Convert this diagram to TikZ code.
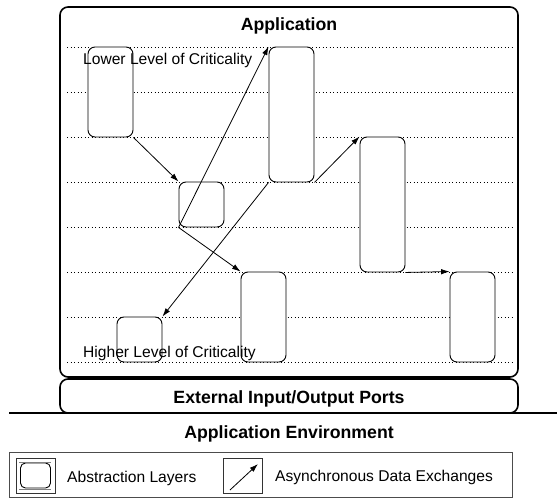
\documentclass[tikz,border=0pt]{standalone}
\usepackage{fontspec}
\setmainfont{Liberation Sans}
\usetikzlibrary{arrows.meta}
\tikzset{
	% boxes: abstraction layers and the two frames
	layer node/.style={rectangle,draw=black,line width=0.9,fill=white,rounded corners=7,inner sep=0,minimum width=45},
	frame node/.style={rectangle,draw,line width=1.6,rounded corners=8,inner sep=0},
	icon node/.style={rectangle,draw=black!80,inner sep=0,minimum width=39,minimum height=35},
	level line/.style={dash pattern=on 0.9pt off 2.6pt,line width=0.8},
	exchange/.style={->,line width=0.8},
	title text/.style={font=\fontsize{17.7}{20}\selectfont\bfseries,inner sep=0,anchor=base},
	label text/.style={font=\fontsize{15.6}{18}\selectfont,inner sep=0,anchor=base west}
}

\begin{document}
\begin{tikzpicture}[x=1pt, y=-1pt, >={Latex[length=8.5pt,width=5.5pt]}]
  \useasboundingbox (0,0) rectangle (557,498);

  \node(app) at (289,192) [frame node, minimum width=458, minimum height=370]{};
  \node(apptitle) at (289,30.5) [title text]{Application};

  %% levels of criticality
  \foreach \y in {47,92,...,362}
    \draw[level line] (67,\y) -- (512,\y);

  \node(l1) at (110.5,92) [layer node, minimum height=90]{};
  \node(l2) at (201.5,204.5) [layer node, minimum height=45]{};
  \node(l3) at (291.5,114.5) [layer node, minimum height=135]{};
  \node(l4) at (382.5,204.5) [layer node, minimum height=135]{};
  \node(l5) at (263.5,317) [layer node, minimum height=90]{};
  \node(l6) at (139.5,339.5) [layer node, minimum height=45]{};
  \node(l7) at (472.5,317) [layer node, minimum height=90]{};

  \node(lower) at (83,64) [label text]{Lower Level of Criticality};
  \node(higher) at (83,357) [label text]{Higher Level of Criticality};

  \path[exchange] (l1.south east) edge (l2.north west);
  \path[exchange] (l2.south west) edge (l3.north west);
  \path[exchange] (l2.south west) edge (l5.north west);
  \path[exchange] (l3.south west) edge (l6.north east);
  \path[exchange] (l3.south east) edge (l4.north west);
  \path[exchange] (l4.south east) edge (l7.north west);

  \node(ports) at (289,396) [frame node, minimum width=458, minimum height=34]{};
  \node(portstitle) at (289,403) [title text]{External Input/Output Ports};
  \draw[line width=1.2] (9,413) -- (557,413);
  \node(env) at (289,438) [title text]{Application Environment};

  %% legend
  \node(legend) at (260.5,474.5) [rectangle, draw=black!70, inner sep=0,
    minimum width=503, minimum height=45]{};
  \node(iconlayer) at (35.5,475.5) [icon node]{};
  \node(iconbox) at (iconlayer) [layer node, rounded corners=5,
    minimum width=30, minimum height=25]{};
  \draw[gray] (19,462) -- (51,462);
  \draw[gray] (19,489) -- (51,489);
  \node(layerstext) at (67,482) [label text]{Abstraction Layers};
  \node(iconarrow) at (243,475.5) [icon node]{};
  \coordinate(from) at (230,490);
  \coordinate(to) at (258,464);
  \draw[exchange] (from) -- (to);
  \node(exchangetext) at (275,481) [label text]{Asynchronous Data Exchanges};

\end{tikzpicture}
\end{document}
